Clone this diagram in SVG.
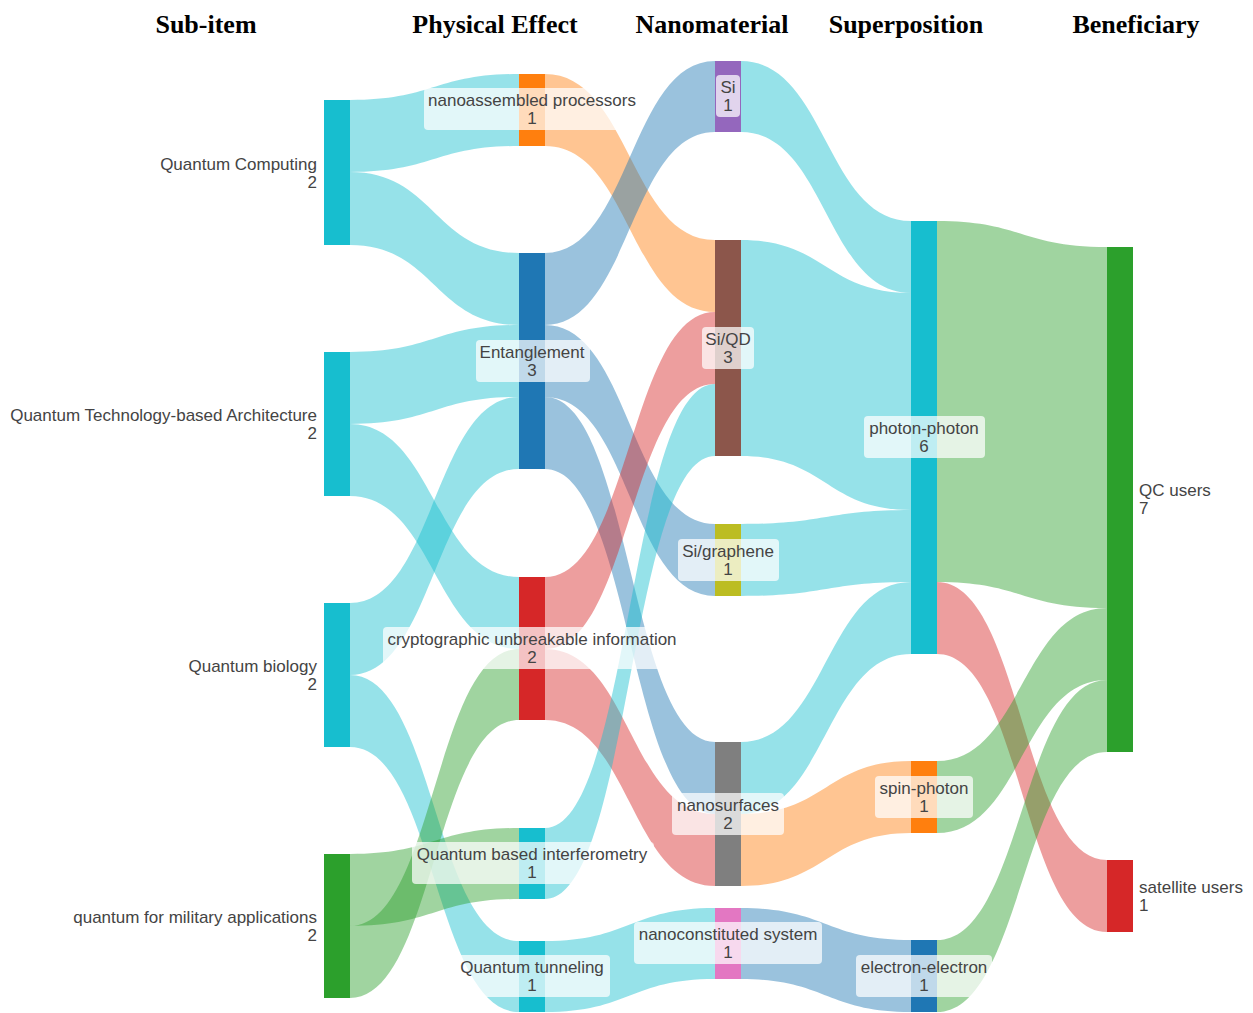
<svg xmlns="http://www.w3.org/2000/svg" width="1253" height="1013" viewBox="0 0 1253 1013">
<style>
.hdr{font-family:"Liberation Serif","Times New Roman",serif;font-weight:bold;font-size:26px;fill:#000;text-anchor:middle}
.lbl{font-family:"Liberation Sans",Arial,sans-serif;font-size:17px;fill:#444}
.mid{text-anchor:middle}
.end{text-anchor:end}
.box{fill:#fff;fill-opacity:0.72;rx:4;ry:4}
.lk{fill-opacity:0.45;stroke:none}
.cy{fill:#17becf}.bl{fill:#1f77b4}.or{fill:#ff7f0e}.rd{fill:#d62728}.gr{fill:#2ca02c}
</style>
<rect width="1253" height="1013" fill="#fff"/>
<g id="headers">
<text class="hdr" x="206" y="33">Sub-item</text>
<text class="hdr" x="495" y="33">Physical Effect</text>
<text class="hdr" x="712" y="33">Nanomaterial</text>
<text class="hdr" x="906" y="33">Superposition</text>
<text class="hdr" x="1136" y="33">Beneficiary</text>
</g>
<g id="connectors">
<path class="lk cy" d="M350 100C434.5 100 434.5 74 519 74L519 146C434.5 146 434.5 172 350 172Z"/>
<path class="lk cy" d="M350 172C434.5 172 434.5 253 519 253L519 325C434.5 325 434.5 245 350 245Z"/>
<path class="lk cy" d="M350 352C434.5 352 434.5 325 519 325L519 397C434.5 397 434.5 424 350 424Z"/>
<path class="lk cy" d="M350 424C434.5 424 434.5 577 519 577L519 649C434.5 649 434.5 496 350 496Z"/>
<path class="lk cy" d="M350 603C434.5 603 434.5 397 519 397L519 469C434.5 469 434.5 675 350 675Z"/>
<path class="lk cy" d="M350 675C434.5 675 434.5 941 519 941L519 1012C434.5 1012 434.5 747 350 747Z"/>
<path class="lk gr" d="M350 854C434.5 854 434.5 828 519 828L519 899C434.5 899 434.5 926 350 926Z"/>
<path class="lk gr" d="M350 926C434.5 926 434.5 649 519 649L519 720C434.5 720 434.5 998 350 998Z"/>
<path class="lk or" d="M545 74C630 74 630 240 715 240L715 312C630 312 630 146 545 146Z"/>
<path class="lk bl" d="M545 253C630 253 630 61 715 61L715 132C630 132 630 325 545 325Z"/>
<path class="lk bl" d="M545 325C630 325 630 524 715 524L715 596C630 596 630 397 545 397Z"/>
<path class="lk bl" d="M545 397C630 397 630 742 715 742L715 814C630 814 630 469 545 469Z"/>
<path class="lk rd" d="M545 577C630 577 630 312 715 312L715 384C630 384 630 649 545 649Z"/>
<path class="lk rd" d="M545 649C630 649 630 814 715 814L715 886C630 886 630 720 545 720Z"/>
<path class="lk cy" d="M545 828C630 828 630 384 715 384L715 456C630 456 630 899 545 899Z"/>
<path class="lk cy" d="M545 941C630 941 630 908 715 908L715 979C630 979 630 1012 545 1012Z"/>
<path class="lk cy" d="M741 61C826 61 826 221 911 221L911 293C826 293 826 132 741 132Z"/>
<path class="lk cy" d="M741 240C826 240 826 293 911 293L911 510C826 510 826 456 741 456Z"/>
<path class="lk cy" d="M741 524C826 524 826 510 911 510L911 582C826 582 826 596 741 596Z"/>
<path class="lk cy" d="M741 742C826 742 826 582 911 582L911 654C826 654 826 814 741 814Z"/>
<path class="lk or" d="M741 814C826 814 826 761 911 761L911 833C826 833 826 886 741 886Z"/>
<path class="lk bl" d="M741 908C826 908 826 940 911 940L911 1012C826 1012 826 979 741 979Z"/>
<path class="lk gr" d="M937 221C1022 221 1022 247 1107 247L1107 608C1022 608 1022 582 937 582Z"/>
<path class="lk rd" d="M937 582C1022 582 1022 860 1107 860L1107 932C1022 932 1022 654 937 654Z"/>
<path class="lk gr" d="M937 761C1022 761 1022 608 1107 608L1107 680C1022 680 1022 833 937 833Z"/>
<path class="lk gr" d="M937 940C1022 940 1022 680 1107 680L1107 752C1022 752 1022 1012 937 1012Z"/>
</g>
<g id="n-quantum-computing"><rect x="324" y="100" width="26" height="145" fill="#17becf"/>
<text class="lbl end" x="317" y="170">Quantum Computing</text><text class="lbl end" x="317" y="188">2</text></g>
<g id="n-qta"><rect x="324" y="352" width="26" height="144" fill="#17becf"/>
<text class="lbl end" x="317" y="421">Quantum Technology-based Architecture</text><text class="lbl end" x="317" y="439">2</text></g>
<g id="n-quantum-biology"><rect x="324" y="603" width="26" height="144" fill="#17becf"/>
<text class="lbl end" x="317" y="672">Quantum biology</text><text class="lbl end" x="317" y="690">2</text></g>
<g id="n-military"><rect x="324" y="854" width="26" height="144" fill="#2ca02c"/>
<text class="lbl end" x="317" y="923">quantum for military applications</text><text class="lbl end" x="317" y="941">2</text></g>

<g id="n-nanoassembled"><rect x="519" y="74" width="26" height="72" fill="#ff7f0e"/>
<rect class="box" x="424" y="88" width="217" height="42"/>
<text class="lbl mid" x="532" y="106">nanoassembled processors</text><text class="lbl mid" x="532" y="124">1</text></g>
<g id="n-entanglement"><rect x="519" y="253" width="26" height="216" fill="#1f77b4"/>
<rect class="box" x="476" y="340" width="114" height="42"/>
<text class="lbl mid" x="532" y="358">Entanglement</text><text class="lbl mid" x="532" y="376">3</text></g>
<g id="n-crypto"><rect x="519" y="577" width="26" height="143" fill="#d62728"/>
<rect class="box" x="383" y="627" width="300" height="42"/>
<text class="lbl mid" x="532" y="645">cryptographic unbreakable information</text><text class="lbl mid" x="532" y="663">2</text></g>
<g id="n-interferometry"><rect x="519" y="828" width="26" height="71" fill="#17becf"/>
<rect class="box" x="412" y="842" width="242" height="42"/>
<text class="lbl mid" x="532" y="860">Quantum based interferometry</text><text class="lbl mid" x="532" y="878">1</text></g>
<g id="n-tunneling"><rect x="519" y="941" width="26" height="71" fill="#17becf"/>
<rect class="box" x="456" y="955" width="154" height="42"/>
<text class="lbl mid" x="532" y="973">Quantum tunneling</text><text class="lbl mid" x="532" y="991">1</text></g>

<g id="n-si"><rect x="715" y="61" width="26" height="71" fill="#9467bd"/>
<rect class="box" x="716" y="75" width="24" height="42"/>
<text class="lbl mid" x="728" y="93">Si</text><text class="lbl mid" x="728" y="111">1</text></g>
<g id="n-siqd"><rect x="715" y="240" width="26" height="216" fill="#8c564b"/>
<rect class="box" x="702" y="327" width="52" height="42"/>
<text class="lbl mid" x="728" y="345">Si/QD</text><text class="lbl mid" x="728" y="363">3</text></g>
<g id="n-sigraphene"><rect x="715" y="524" width="26" height="72" fill="#bcbd22"/>
<rect class="box" x="678" y="539" width="101" height="42"/>
<text class="lbl mid" x="728" y="557">Si/graphene</text><text class="lbl mid" x="728" y="575">1</text></g>
<g id="n-nanosurfaces"><rect x="715" y="742" width="26" height="144" fill="#7f7f7f"/>
<rect class="box" x="672" y="793" width="112" height="42"/>
<text class="lbl mid" x="728" y="811">nanosurfaces</text><text class="lbl mid" x="728" y="829">2</text></g>
<g id="n-nanoconstituted"><rect x="715" y="908" width="26" height="71" fill="#e377c2"/>
<rect class="box" x="634" y="922" width="188" height="42"/>
<text class="lbl mid" x="728" y="940">nanoconstituted system</text><text class="lbl mid" x="728" y="958">1</text></g>

<g id="n-photon-photon"><rect x="911" y="221" width="26" height="433" fill="#17becf"/>
<rect class="box" x="864" y="416" width="121" height="42"/>
<text class="lbl mid" x="924" y="434">photon-photon</text><text class="lbl mid" x="924" y="452">6</text></g>
<g id="n-spin-photon"><rect x="911" y="761" width="26" height="72" fill="#ff7f0e"/>
<rect class="box" x="875" y="776" width="98" height="42"/>
<text class="lbl mid" x="924" y="794">spin-photon</text><text class="lbl mid" x="924" y="812">1</text></g>
<g id="n-electron-electron"><rect x="911" y="940" width="26" height="72" fill="#1f77b4"/>
<rect class="box" x="856" y="955" width="136" height="42"/>
<text class="lbl mid" x="924" y="973">electron-electron</text><text class="lbl mid" x="924" y="991">1</text></g>

<g id="n-qc-users"><rect x="1107" y="247" width="26" height="505" fill="#2ca02c"/>
<text class="lbl" x="1139" y="496">QC users</text><text class="lbl" x="1139" y="514">7</text></g>
<g id="n-satellite-users"><rect x="1107" y="860" width="26" height="72" fill="#d62728"/>
<text class="lbl" x="1139" y="893">satellite users</text><text class="lbl" x="1139" y="911">1</text></g>
</svg>
